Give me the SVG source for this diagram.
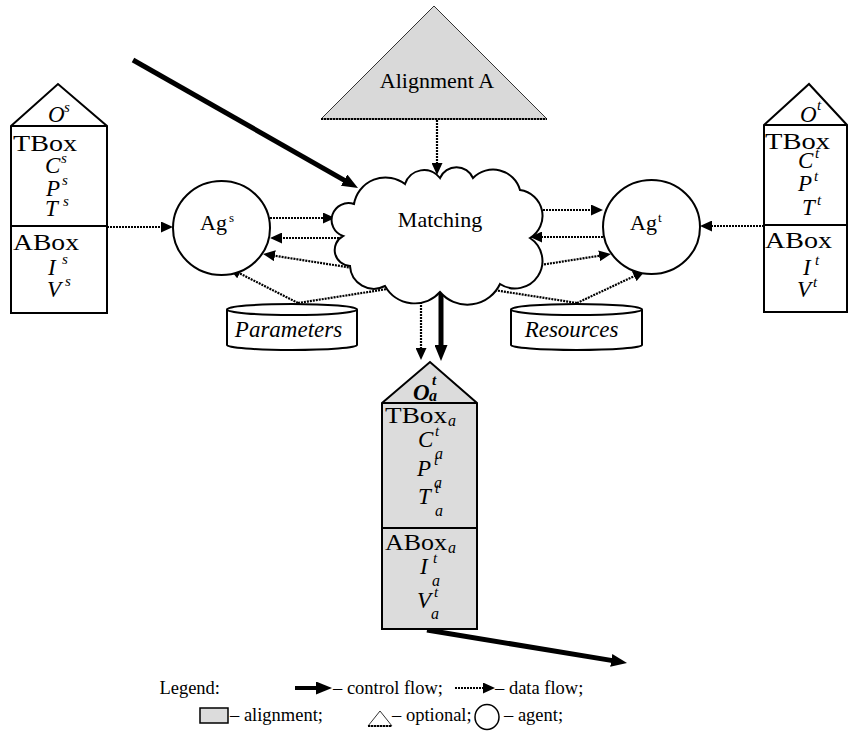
<svg xmlns="http://www.w3.org/2000/svg" width="848" height="747" viewBox="0 0 848 747">
  <style>
    text { font-family: "Liberation Serif", "Times New Roman", serif; fill: #000; }
    .lbl { font-size: 22px; }
    .big { font-size: 23px; }
    .it { font-size: 23px; font-style: italic; }
    .sup { font-size: 15px; font-style: italic; }
    .sub { font-size: 16px; font-style: italic; }
    .bi { font-weight: bold; }
    .leg { font-size: 18.5px; }
    .shape { fill: #fff; stroke: #000; stroke-width: 2; }
    .grey { fill: #dcdcdc; stroke: #000; stroke-width: 2; }
    .data { fill: none; stroke: #000; stroke-width: 2.2; stroke-dasharray: 2 1; marker-end: url(#dataHead); }
    .ctrl { fill: none; stroke: #000; stroke-width: 5; marker-end: url(#ctrlHead); }
    .tri { fill: #d9d9d9; stroke: #333; stroke-width: 1; }
    .dotline { fill: none; stroke: #000; stroke-width: 2; stroke-dasharray: 2 1; }
  </style>
  <defs>
    <marker id="dataHead" viewBox="0 0 12 11" refX="2" refY="5.5" markerWidth="12" markerHeight="11" orient="auto" markerUnits="userSpaceOnUse">
      <path d="M0,0 L12,5.5 L0,11 z" fill="#000"/>
    </marker>
    <marker id="ctrlHead" viewBox="0 0 16 13" refX="3" refY="6.5" markerWidth="16" markerHeight="13" orient="auto" markerUnits="userSpaceOnUse">
      <path d="M0,0 L16,6.5 L0,13 z" fill="#000"/>
    </marker>
  </defs>

  <!-- connectors (drawn first so the cloud hides the crossing segments) -->
  <g id="connectors">
    <line class="ctrl" x1="133" y1="60" x2="346.7" y2="181.6"/>
    <line class="data" x1="437" y1="120" x2="437" y2="165"/>
    <line class="data" x1="107" y1="227" x2="163" y2="227"/>
    <line class="data" x1="270" y1="218" x2="325" y2="218"/>
    <line class="data" x1="342" y1="238" x2="280" y2="238"/>
    <line class="data" x1="540" y1="210" x2="593" y2="210"/>
    <line class="data" x1="603" y1="237" x2="540" y2="237"/>
    <line class="data" x1="764" y1="226" x2="710" y2="226"/>
    <line class="data" x1="298" y1="303" x2="237.9" y2="272.5"/>
    <line class="data" x1="298" y1="303" x2="601.1" y2="255.5"/>
    <line class="data" x1="577" y1="303" x2="272.9" y2="255.5"/>
    <line class="data" x1="577" y1="303" x2="636" y2="275.3"/>
    <line class="data" x1="421" y1="290" x2="421" y2="350"/>
    <line class="ctrl" x1="441" y1="290" x2="441" y2="348"/>
    <line class="ctrl" x1="427" y1="630" x2="614.2" y2="660.9"/>
  </g>

  <!-- optional input alignment -->
  <g id="alignmentA">
    <polygon class="tri" points="321,119 434,6 547,119"/>
    <line class="dotline" x1="321" y1="119" x2="547" y2="119"/>
    <text class="lbl" x="437" y="88" text-anchor="middle" font-size="21.5">Alignment A</text>
  </g>

  <!-- source ontology -->
  <g id="sourceOntology">
    <path class="shape" d="M11,126 L58,84 L107,126 L107,313 L11,313 Z"/>
    <line x1="11" y1="126" x2="107" y2="126" stroke="#000" stroke-width="2"/>
    <line x1="11" y1="226" x2="107" y2="226" stroke="#000" stroke-width="2"/>
    <text class="it" x="48" y="122">O</text><text class="sup" x="64" y="112">s</text>
    <text class="big" x="13" y="151" textLength="64" lengthAdjust="spacingAndGlyphs">TBox</text>
    <text class="it" x="45" y="173">C</text><text class="sup" x="61" y="163">s</text>
    <text class="it" x="46" y="196">P</text><text class="sup" x="62" y="185">s</text>
    <text class="it" x="45" y="216">T</text><text class="sup" x="63" y="206">s</text>
    <text class="big" x="13" y="250" textLength="66" lengthAdjust="spacingAndGlyphs">ABox</text>
    <text class="it" x="48" y="275">I</text><text class="sup" x="62" y="264">s</text>
    <text class="it" x="47" y="297">V</text><text class="sup" x="65" y="286">s</text>
  </g>

  <!-- target ontology -->
  <g id="targetOntology">
    <path class="shape" d="M764,125 L809,84 L847,125 L847,312 L764,312 Z"/>
    <line x1="764" y1="125" x2="847" y2="125" stroke="#000" stroke-width="2"/>
    <line x1="764" y1="225" x2="847" y2="225" stroke="#000" stroke-width="2"/>
    <text class="it" x="800" y="122">O</text><text class="sup" x="817" y="110">t</text>
    <text class="big" x="765" y="149" textLength="65" lengthAdjust="spacingAndGlyphs">TBox</text>
    <text class="it" x="798" y="168">C</text><text class="sup" x="815" y="158">t</text>
    <text class="it" x="798" y="191">P</text><text class="sup" x="814" y="181">t</text>
    <text class="it" x="802" y="215">T</text><text class="sup" x="817" y="205">t</text>
    <text class="big" x="765" y="248" textLength="67" lengthAdjust="spacingAndGlyphs">ABox</text>
    <text class="it" x="803" y="275">I</text><text class="sup" x="815" y="265">t</text>
    <text class="it" x="797" y="297">V</text><text class="sup" x="813" y="287">t</text>
  </g>

  <!-- agents -->
  <g id="agentSource">
    <ellipse class="shape" cx="221.5" cy="228" rx="48.5" ry="47"/>
    <text class="lbl" x="200" y="230" font-size="21">Ag</text><text x="229" y="222" font-size="13">s</text>
  </g>
  <g id="agentTarget">
    <ellipse class="shape" cx="651.5" cy="227" rx="48.5" ry="47"/>
    <text class="lbl" x="630" y="230" font-size="21">Ag</text><text x="658" y="222" font-size="13">t</text>
  </g>

  <!-- matching process -->
  <g id="matching">
    <path class="shape" d="M343,236 A16,16 0 0 1 354,204 A32,32 0 0 1 405,184 A20,20 0 0 1 440,178 A18,18 0 0 1 473,178 A28,28 0 0 1 520,190 A26,26 0 0 1 530,238 A26,26 0 0 1 500,284 A36,36 0 0 1 440,292 A34,34 0 0 1 385,286 A24,24 0 0 1 350,266 A16,16 0 0 1 343,236 Z"/>
    <text class="lbl" x="440" y="227" text-anchor="middle">Matching</text>
  </g>

  <!-- external inputs -->
  <g id="parameters">
    <path class="shape" d="M227,309.5 L227,345 A65,5 0 0 0 357,345 L357,309.5"/>
    <ellipse class="shape" cx="292" cy="309.5" rx="65" ry="5.5"/>
    <text class="it" x="288.5" y="337" text-anchor="middle">Parameters</text>
  </g>
  <g id="resources">
    <path class="shape" d="M511,309.5 L511,345 A65.5,5 0 0 0 642,345 L642,309.5"/>
    <ellipse class="shape" cx="576.5" cy="309.5" rx="65.5" ry="5.5"/>
    <text class="it" x="571.5" y="337" text-anchor="middle">Resources</text>
  </g>

  <!-- resulting aligned ontology -->
  <g id="alignedOntology">
    <path class="grey" d="M382,403 L430,362 L477,403 L477,629 L382,629 Z"/>
    <line x1="382" y1="403" x2="477" y2="403" stroke="#000" stroke-width="2"/>
    <line x1="382" y1="528" x2="477" y2="528" stroke="#000" stroke-width="2"/>
    <text class="it bi" x="413" y="400">O</text><text class="sup bi" x="432" y="385">t</text><text class="sub bi" x="429" y="401">a</text>
    <text class="big" x="385" y="423" textLength="62" lengthAdjust="spacingAndGlyphs">TBox</text><text class="sub" x="448" y="426">a</text>
    <text class="it" x="418" y="447">C</text><text class="sup" x="435" y="436">t</text><text class="sub" x="435" y="459">a</text>
    <text class="it" x="417" y="476">P</text><text class="sup" x="434" y="465">t</text><text class="sub" x="434" y="488">a</text>
    <text class="it" x="418" y="504">T</text><text class="sup" x="435" y="493">t</text><text class="sub" x="435" y="516">a</text>
    <text class="big" x="385" y="550" textLength="62" lengthAdjust="spacingAndGlyphs">ABox</text><text class="sub" x="448" y="553">a</text>
    <text class="it" x="420" y="574">I</text><text class="sup" x="433" y="563">t</text><text class="sub" x="432" y="586">a</text>
    <text class="it" x="417" y="608">V</text><text class="sup" x="434" y="597">t</text><text class="sub" x="431" y="619">a</text>
  </g>

  <!-- legend -->
  <g id="legend">
    <text class="leg" x="220" y="694" text-anchor="end">Legend:</text>
    <line x1="295" y1="688" x2="319" y2="688" stroke="#000" stroke-width="4" marker-end="url(#ctrlHead)"/>
    <text class="leg" x="333" y="694">– control flow;</text>
    <line class="data" x1="455" y1="688" x2="485" y2="688"/>
    <text class="leg" x="495" y="694">– data flow;</text>
    <rect x="200" y="708" width="28" height="15" fill="#dcdcdc" stroke="#000" stroke-width="1.5"/>
    <text class="leg" x="230" y="721">– alignment;</text>
    <polygon points="368,726 380,711 392,726" fill="#fff" stroke="#333" stroke-width="1"/>
    <line class="dotline" x1="368" y1="726" x2="392" y2="726" stroke-width="1.5"/>
    <text class="leg" x="392" y="721">– optional;</text>
    <ellipse cx="487" cy="717" rx="12" ry="12.5" fill="#fff" stroke="#000" stroke-width="1.5"/>
    <text class="leg" x="504" y="721">– agent;</text>
  </g>
</svg>
